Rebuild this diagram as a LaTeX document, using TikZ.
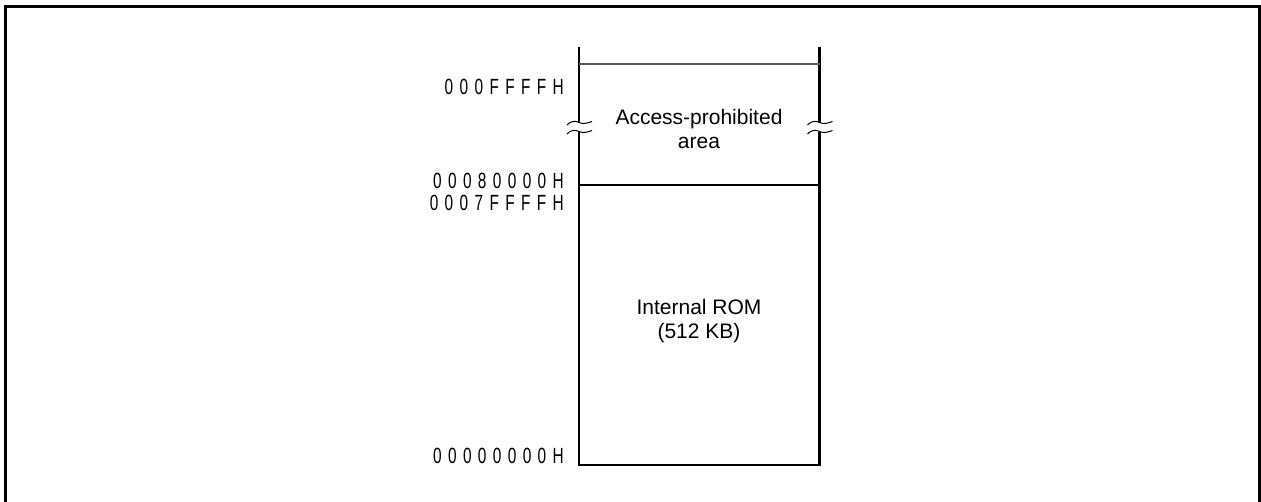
\documentclass[tikz,border=0pt]{standalone}
\usepackage{fontspec}
\setmainfont{Liberation Sans}
\newfontfamily\addrfont[FakeStretch=0.7,LetterSpace=29]{Liberation Sans}
\begin{document}
\begin{tikzpicture}[x=1pt,y=-1pt,
  frame/.style={line width=3pt},
  wall/.style={line width=2.8pt},
  sep/.style={line width=1.4pt},
  topsep/.style={line width=1.4pt,black!65},
  brk/.style={line width=1pt},
  addr/.style={anchor=base east,inner sep=0pt,font=\addrfont\fontsize{22}{25}\selectfont},
  area/.style={anchor=base,inner sep=0pt,align=center,font=\fontsize{21}{24.5}\selectfont}]
\useasboundingbox (0,0) rectangle (1261,502);
% outer frame
\draw[frame] (5.5,520) -- (5.5,6.5) -- (1259.5,6.5) -- (1259.5,520);
% coordinates
\coordinate (lt) at (579,47);
\coordinate (rt) at (819.5,47);
\coordinate (lb) at (579,465);
\coordinate (rb) at (819.5,465);
\coordinate (lg1) at (579,123);
\coordinate (lg2) at (579,132);
\coordinate (rg1) at (819.5,123);
\coordinate (rg2) at (819.5,132);
% walls with break
\draw[wall] (lt) -- (lg1);
\draw[wall] (lg2) -- (lb) -- (rb) -- (rg2);
\draw[wall] (rt) -- (rg1);
% break marks
\draw[brk] (567,125) .. controls (572,120) and (576,121) .. (579,122.5) .. controls (583,124.5) and (588,123) .. (592,121.5);
\draw[brk] (567,134) .. controls (572,129) and (576,130) .. (579,131.5) .. controls (583,133.5) and (588,132) .. (592,130.5);
\draw[brk] (807.5,125) .. controls (812.5,120) and (816.5,121) .. (819.5,122.5) .. controls (823.5,124.5) and (828.5,123) .. (832.5,121.5);
\draw[brk] (807.5,134) .. controls (812.5,129) and (816.5,130) .. (819.5,131.5) .. controls (823.5,133.5) and (828.5,132) .. (832.5,130.5);
% separators
\draw[topsep] (579,64) -- (819.5,64);
\draw[sep] (579,185) -- (819.5,185);
% area labels (anchor at baseline of last line)
\node[area] (acc) at (699,149) {Access-prohibited\\area};
\node[area] (rom) at (699,339) {Internal ROM\\(512 KB)};
% addresses
\node[addr] (a1) at (564,95) {000FFFFH};
\node[addr] (a2) at (564,189) {00080000H};
\node[addr] (a3) at (564,211) {0007FFFFH};
\node[addr] (a4) at (564,463) {00000000H};
\end{tikzpicture}
\end{document}
